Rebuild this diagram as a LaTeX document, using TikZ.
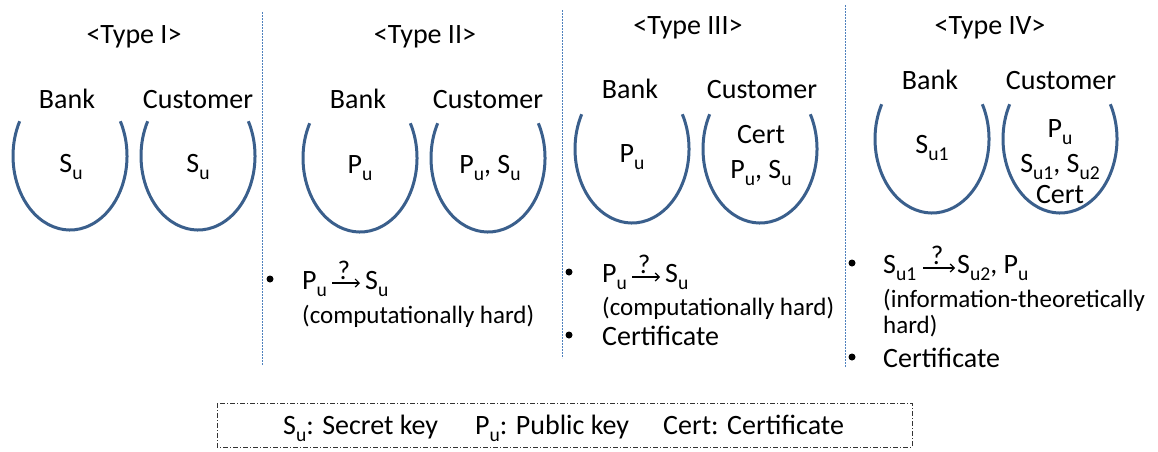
\documentclass[tikz,border=0pt]{standalone}
\usepackage{fontspec}
\setmainfont{Carlito}
\usepackage{graphicx}
\usetikzlibrary{arrows.meta}
% lowered, reduced subscript as used for key names
\newcommand\sbs[1]{\raisebox{-0.26em}{\scalebox{0.7}{#1}}}
\definecolor{ovalblue}{RGB}{58,95,140}
\definecolor{rulerblue}{RGB}{79,129,189}
\begin{document}
\begin{tikzpicture}[x=1pt,y=-1pt,
  txt/.style={inner sep=0pt, anchor=base, font=\fontsize{28}{30}\selectfont},
  btxt/.style={inner sep=0pt, anchor=base west, font=\fontsize{28}{30}\selectfont},
  small/.style={inner sep=0pt, anchor=base west, font=\fontsize{25}{27}\selectfont},
  qmark/.style={inner sep=0pt, anchor=base, font=\fontsize{27}{27}\selectfont},
  qarrow/.style={line width=1.2pt, -{Straight Barb[length=4pt,width=8pt]}},
  dot/.style={circle, fill=black, inner sep=0pt, minimum size=7pt},
  oval/.style={draw=ovalblue, line width=3pt},
  divider/.style={draw=rulerblue, line width=1pt, dash pattern=on 2pt off 1pt},
  legendbox/.style={draw=black!80, line width=0.9pt, dash pattern=on 5pt off 2pt on 1pt off 2pt}
]
\useasboundingbox (0,0) rectangle (1158,451);

% column dividers
\coordinate (d1t) at (262,12);  \coordinate (d1b) at (262,365);
\coordinate (d2t) at (562,10);  \coordinate (d2b) at (562,358);
\coordinate (d3t) at (845,5);   \coordinate (d3b) at (845,367);
\draw[divider] (d1t) -- (d1b);
\draw[divider] (d2t) -- (d2b);
\draw[divider] (d3t) -- (d3b);

% open ovals (bank / customer)
\foreach \cx/\cy in {70/156,198/156,360/158,488/158,632/149,760/149,932/139,1060/139}
  \draw[oval] (\cx,\cy) ++(-28:57 and 74) arc[start angle=-28, end angle=208, x radius=57, y radius=74];

% Type I
\node[txt] (h1) at (134,43) {<Type I>};
\node[txt] (bank1) at (67,108) {Bank};
\node[txt] (cust1) at (198,108) {Customer};
\node[txt] (k1b) at (71,172) {S\sbs{u}};
\node[txt] (k1c) at (198,172) {S\sbs{u}};

% Type II
\node[txt] (h2) at (425,43) {<Type II>};
\node[txt] (bank2) at (358,108) {Bank};
\node[txt] (cust2) at (488,108) {Customer};
\node[txt] (k2b) at (360,173) {P\sbs{u}};
\node[txt] (k2c) at (490,173) {P\sbs{u}, S\sbs{u}};
\node[dot] (b2a) at (270,279) {};
\node[btxt] (p2) at (302,289) {P\sbs{u}};
\coordinate (a2s) at (332,283); \coordinate (a2e) at (360,283);
\draw[qarrow] (a2s) -- (a2e);
\node[qmark] (q2) at (344,279) {?};
\node[btxt] (s2) at (365,289) {S\sbs{u}};
\node[small] (t2b) at (302,323) {(computationally hard)};

% Type III
\node[txt] (h3) at (688,34) {<Type III>};
\node[txt] (bank3) at (630,98) {Bank};
\node[txt] (cust3) at (762,98) {Customer};
\node[txt] (k3b) at (632,162) {P\sbs{u}};
\node[txt] (k3c1) at (761,143) {Cert};
\node[txt] (k3c2) at (761,178) {P\sbs{u}, S\sbs{u}};
\node[dot] (b3a) at (569,272) {};
\node[btxt] (p3) at (602,282) {P\sbs{u}};
\coordinate (a3s) at (632,277); \coordinate (a3e) at (660,277);
\draw[qarrow] (a3s) -- (a3e);
\node[qmark] (q3) at (644,273) {?};
\node[btxt] (s3) at (665,282) {S\sbs{u}};
\node[small] (t3b) at (602,315) {(computationally hard)};
\node[dot] (b3b) at (569,335) {};
\node[btxt] (t3c) at (602,345) {Certificate};

% Type IV
\node[txt] (h4) at (990,34) {<Type IV>};
\node[txt] (bank4) at (930,89) {Bank};
\node[txt] (cust4) at (1061,89) {Customer};
\node[txt] (k4b) at (932,153) {S\sbs{u1}};
\node[txt] (k4c1) at (1060,137) {P\sbs{u}};
\node[txt] (k4c2) at (1060,172) {S\sbs{u1}, S\sbs{u2}};
\node[txt] (k4c3) at (1060,203) {Cert};
\node[dot] (b4a) at (852,263) {};
\node[btxt] (p4) at (883,273) {S\sbs{u1}};
\coordinate (a4s) at (923,268); \coordinate (a4e) at (955,268);
\draw[qarrow] (a4s) -- (a4e);
\node[qmark] (q4) at (937,264) {?};
\node[btxt] (s4) at (957,273) {S\sbs{u2}, P\sbs{u}};
\node[small] (t4b) at (883,307) {(information-theoretically};
\node[small] (t4c) at (883,333) {hard)};
\node[dot] (b4b) at (852,357) {};
\node[btxt] (t4d) at (883,367) {Certificate};

% legend
\coordinate (lg1) at (217,403);
\coordinate (lg2) at (912,447);
\draw[legendbox] (lg1) rectangle (lg2);
\node[btxt] (l1) at (283,434) {S\sbs{u}: Secret key};
\node[btxt] (l2) at (475,434) {P\sbs{u}: Public key};
\node[btxt] (l3) at (663,434) {Cert: Certificate};
\end{tikzpicture}
\end{document}
